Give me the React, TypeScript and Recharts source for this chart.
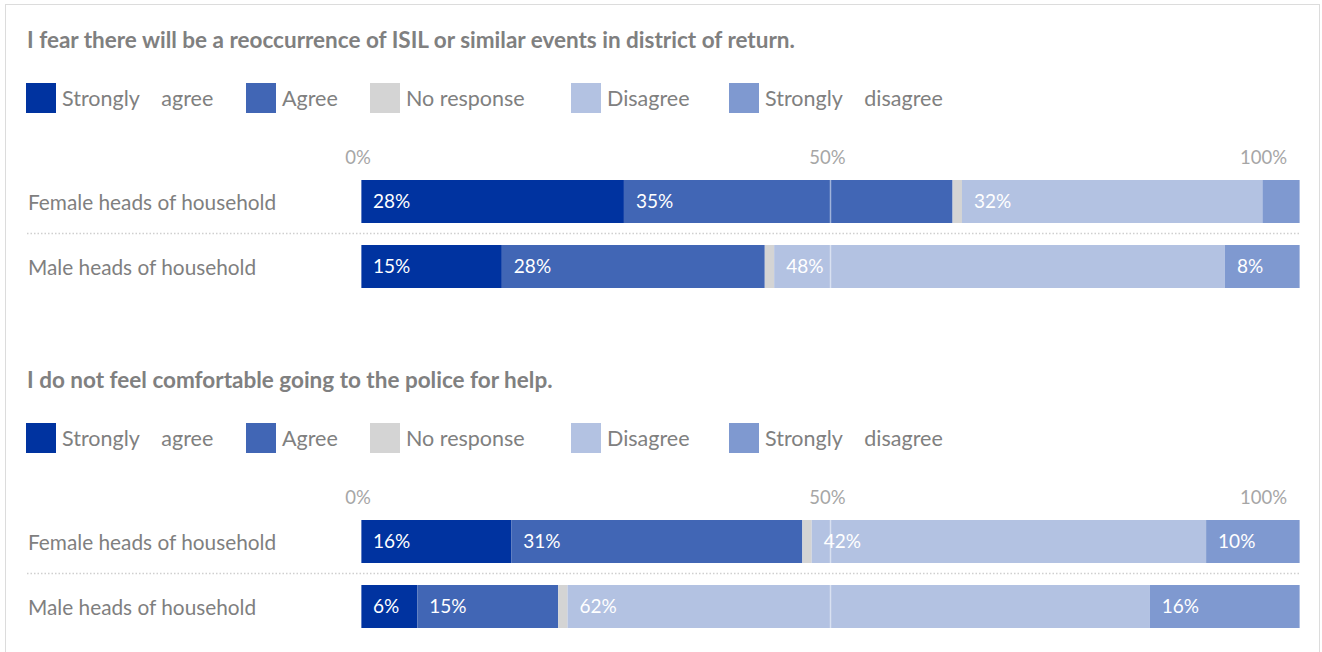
import { Bar, BarChart, LabelList, ReferenceLine, XAxis, YAxis } from "recharts";

const categories = ["Female heads of household", "Male heads of household"];
const seriesKeys = ["sa", "ag", "nr", "di", "sd"];
const seriesNames = ["Strongly    agree", "Agree", "No response", "Disagree", "Strongly    disagree"];
const seriesColors = ["#0033a0", "#4166b5", "#d4d4d4", "#b3c2e2", "#7f99d0"];

// Panel 1 — fear of reoccurrence
const fearStronglyAgree = [28, 15];
const fearAgree = [35, 28];
const fearNoResponse = [1, 1];
const fearDisagree = [32, 48];
const fearStronglyDisagree = [4, 8];

// Panel 2 — police
const policeStronglyAgree = [16, 6];
const policeAgree = [31, 15];
const policeNoResponse = [1, 1];
const policeDisagree = [42, 62];
const policeStronglyDisagree = [10, 16];

const axisTicks = [0, 50, 100];

const titles = [
  "I fear there will be a reoccurrence of ISIL or similar events in district of return.",
  "I do not feel comfortable going to the police for help.",
];

// legend swatch left edges, px
const legendX = [26, 246, 370, 571, 729];

const font = "Lato, 'Open Sans', sans-serif";

function buildRows(series: number[][]) {
  return categories.map((name, i) => {
    const row: Record<string, string | number> = { name };
    seriesKeys.forEach((k, s) => (row[k] = series[s][i]));
    return row;
  });
}

const fearRows = buildRows([fearStronglyAgree, fearAgree, fearNoResponse, fearDisagree, fearStronglyDisagree]);
const policeRows = buildRows([policeStronglyAgree, policeAgree, policeNoResponse, policeDisagree, policeStronglyDisagree]);

function TopTick(props: any) {
  const { x, payload, index } = props;
  const last = index === axisTicks.length - 1;
  return (
    <text
      x={last ? x - 13 : x - 3}
      y={27}
      textAnchor={last ? "end" : "middle"}
      dominantBaseline="central"
      fill="#a6a6a6"
      fontSize={18.5}
      fontFamily={font}
    >
      {payload.value}%
    </text>
  );
}

function CatTick(props: any) {
  const { y, payload, index } = props;
  return (
    <g>
      {index > 0 ? (
        <line x1={27} x2={1300} y1={y - 33} y2={y - 33} stroke="#cfcfcf" strokeWidth={1.5} strokeDasharray="1.5 2" />
      ) : null}
      <text x={28} y={y} dominantBaseline="central" fill="#7f7f7f" fontSize={20.8} fontFamily={font}>
        {payload.value}
      </text>
    </g>
  );
}

function Panel({ top, title, rows }: { top: number; title: string; rows: any[] }) {
  return (
    <div style={{ position: "absolute", left: 0, top, width: 1322, height: 300 }}>
      <div
        style={{
          position: "absolute", left: 27, top: 26, fontSize: 22.5, fontWeight: 700,
          color: "#808080", whiteSpace: "nowrap", lineHeight: "27px",
        }}
      >
        {title}
      </div>
      {seriesNames.map((n, i) => (
        <div key={n} style={{ position: "absolute", left: legendX[i], top: 83, display: "flex", alignItems: "center" }}>
          <div style={{ width: 30, height: 30, background: seriesColors[i] }} />
          <span style={{ marginLeft: 6, fontSize: 21.5, color: "#808080", whiteSpace: "pre", lineHeight: "30px" }}>{n}</span>
        </div>
      ))}
      <div style={{ position: "absolute", left: 0, top: 130 }}>
        <BarChart
          width={1322}
          height={169}
          data={rows}
          layout="vertical"
          margin={{ top: 0, right: 22, bottom: 0, left: 0 }}
          barSize={43}
        >
          <XAxis
            type="number"
            domain={[0, 100]}
            ticks={axisTicks}
            orientation="top"
            height={39}
            axisLine={false}
            tickLine={false}
            tick={<TopTick />}
          />
          <YAxis
            type="category"
            dataKey="name"
            width={361}
            axisLine={false}
            tickLine={false}
            tick={<CatTick />}
          />
          {seriesKeys.map((k, i) => (
            <Bar key={k} dataKey={k} stackId="a" fill={seriesColors[i]} isAnimationActive={false}>
              <LabelList
                dataKey={k}
                position="insideLeft"
                offset={12}
                fill="#ffffff"
                fontSize={19}
                fontFamily={font}
                formatter={(v: any) => (v >= 5 ? `${v}%` : "")}
              />
            </Bar>
          ))}
          {axisTicks.map((t) => (
            <ReferenceLine key={t} x={t} stroke="#ffffff" strokeOpacity={0.5} strokeWidth={1.5} />
          ))}
        </BarChart>
      </div>
    </div>
  );
}

export default function App() {
  return (
    <div style={{ position: "absolute", left: 0, top: 0, width: 1322, height: 652, background: "#fff", fontFamily: font, overflow: "hidden" }}>
      <div style={{ position: "absolute", left: 5, top: 4, width: 1313, height: 700, border: "1.5px solid #dcdcdc" }} />
      <Panel top={0} title={titles[0]} rows={fearRows} />
      <Panel top={340} title={titles[1]} rows={policeRows} />
    </div>
  );
}
